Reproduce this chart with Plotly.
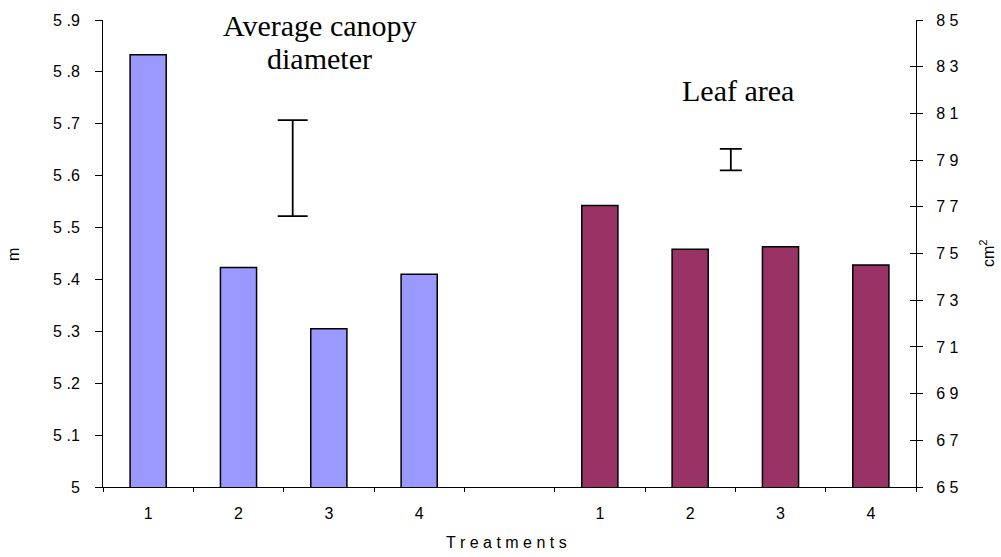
import plotly.graph_objects as go

# ---- data ----
treatments = ["1", "2", "3", "4"]
canopy_m = [5.833, 5.423, 5.305, 5.410]          # left axis (m)
leaf_cm2 = [77.06, 75.18, 75.29, 74.51]          # right axis (cm2)
canopy_lsd_center = [5.6145]
canopy_lsd_half = [0.0925]
leaf_lsd_center = [79.02]
leaf_lsd_half = [0.46]

left_ticks = [5.0, 5.1, 5.2, 5.3, 5.4, 5.5, 5.6, 5.7, 5.8, 5.9]
left_ticktext = ["5", "5 .1", "5 .2", "5 .3", "5 .4", "5 .5", "5 .6", "5 .7", "5 .8", "5 .9"]
right_ticks = list(range(65, 86, 2))
right_ticktext = [" ".join(str(v)) for v in right_ticks]

# ---- layout positions ----
left_x = [1, 2, 3, 4]
right_x = [6, 7, 8, 9]
canopy_lsd_x = [2.6]
leaf_lsd_x = [7.45]

FONT = "Arial, 'Liberation Sans', sans-serif"
SERIF = "'Times New Roman', 'Liberation Serif', serif"
TICK = 16

fig = go.Figure()
fig.add_trace(go.Bar(x=left_x, y=canopy_m, width=0.4, yaxis="y",
                     marker=dict(color="#9999FF", line=dict(color="black", width=1.5)),
                     name="Average canopy diameter", showlegend=False))
fig.add_trace(go.Bar(x=right_x, y=leaf_cm2, width=0.4, yaxis="y2",
                     marker=dict(color="#993366", line=dict(color="black", width=1.5)),
                     name="Leaf area", showlegend=False))
fig.add_trace(go.Scatter(x=canopy_lsd_x, y=canopy_lsd_center, yaxis="y", mode="markers",
                         marker=dict(size=1, opacity=0),
                         error_y=dict(type="data", array=canopy_lsd_half, color="black",
                                      thickness=1.8, width=15),
                         showlegend=False, hoverinfo="skip"))
fig.add_trace(go.Scatter(x=leaf_lsd_x, y=leaf_lsd_center, yaxis="y2", mode="markers",
                         marker=dict(size=1, opacity=0),
                         error_y=dict(type="data", array=leaf_lsd_half, color="black",
                                      thickness=1.8, width=11),
                         showlegend=False, hoverinfo="skip"))
# invisible helpers for tick-only overlay axes
fig.add_trace(go.Scatter(x=[5], y=[5.5], xaxis="x2", yaxis="y", mode="markers",
                         marker=dict(opacity=0), showlegend=False, hoverinfo="skip"))
fig.add_trace(go.Scatter(x=[5], y=[75], xaxis="x", yaxis="y3", mode="markers",
                         marker=dict(opacity=0), showlegend=False, hoverinfo="skip"))

all_x = left_x + right_x
all_txt = treatments + treatments

fig.update_layout(
    width=1001, height=557,
    margin=dict(l=103, r=85, t=16, b=70),
    paper_bgcolor="white", plot_bgcolor="white",
    barmode="overlay",
    font=dict(family=FONT, size=TICK, color="black"),
    xaxis=dict(range=[0.5, 9.5], tickvals=all_x, ticktext=all_txt, ticks="", ticklen=0,
               showline=True, linecolor="black", linewidth=1, showgrid=False, zeroline=False,
               ticklabelstandoff=12, tickfont=dict(size=TICK)),
    xaxis2=dict(range=[0.5, 9.5], overlaying="x", anchor="y", side="bottom",
                tickvals=[i + 0.5 for i in range(0, 10)], ticks="outside", ticklen=4,
                tickcolor="black", showticklabels=False, showline=False, showgrid=False,
                zeroline=False),
    yaxis=dict(range=[5.0, 5.9], tickvals=left_ticks, ticktext=left_ticktext,
               ticks="outside", ticklen=7, tickcolor="black", showline=True,
               linecolor="black", linewidth=1, showgrid=False, zeroline=False,
               ticklabelstandoff=12, tickfont=dict(size=TICK)),
    yaxis2=dict(range=[65, 85], tickvals=right_ticks, ticktext=right_ticktext,
                overlaying="y", side="right", anchor="x",
                ticks="outside", ticklen=6, tickcolor="black", showline=True,
                linecolor="black", linewidth=1, showgrid=False, zeroline=False,
                ticklabelstandoff=10, tickfont=dict(size=TICK)),
    yaxis3=dict(range=[65, 85], tickvals=right_ticks, overlaying="y", side="right",
                anchor="x", ticks="inside", ticklen=6, tickcolor="black",
                showticklabels=False, showline=False, showgrid=False, zeroline=False),
)

# paper coordinates relative to plot area (plot area: x 103..916, y 16..487 px)
def paper_x(px):
    return (px - 103) / 813.0
def paper_y(pyv):
    return (487 - pyv) / 471.0

annots = [
    dict(text="m", x=14, y=253, textangle=-90, size=TICK, family=FONT),
    dict(text="cm<sup>2</sup>", x=987, y=251, textangle=-90, size=TICK, family=FONT),
    dict(text="T r e a t m e n t s", x=506, y=543, textangle=0, size=TICK, family=FONT),
    dict(text="Average canopy", x=320, y=21.5, textangle=0, size=30, family=SERIF),
    dict(text="diameter", x=319, y=54.5, textangle=0, size=30, family=SERIF),
    dict(text="Leaf area", x=738, y=86.8, textangle=0, size=30, family=SERIF),
]
for a in annots:
    fig.add_annotation(text=a["text"], x=paper_x(a["x"]), y=paper_y(a["y"]),
                       xref="paper", yref="paper", xanchor="center", yanchor="middle",
                       textangle=a["textangle"], showarrow=False,
                       font=dict(family=a["family"], size=a["size"], color="black"))

fig.write_html("out.html")
